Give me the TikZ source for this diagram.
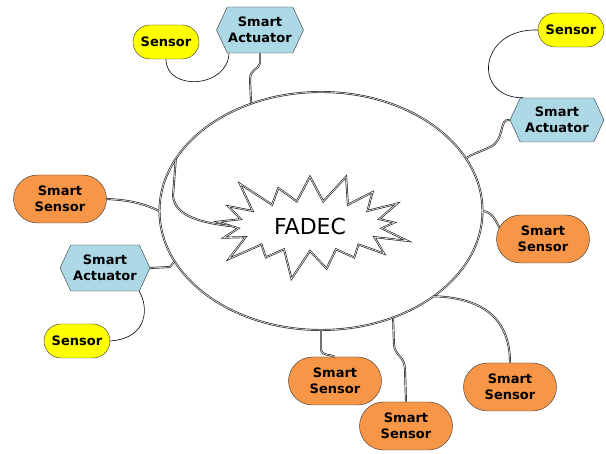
\documentclass[tikz,border=0pt]{standalone}
\usepackage{fontspec}
\setsansfont{DejaVu Sans}
\usepackage{xcolor}
\usetikzlibrary{shapes.geometric,shapes.misc,shapes.symbols}

\definecolor{capteur}{RGB}{255,255,0}
\definecolor{orangesm}{RGB}{247,150,70}
\definecolor{bleuact}{RGB}{173,216,230}

\tikzset{
	boite/.style={draw=black!80,thin,align=center,font=\sffamily\bfseries\fontsize{13}{15.5}\selectfont},
	sensor/.style={boite,rounded rectangle,fill=capteur,minimum width=68pt,minimum height=34pt,inner sep=1pt},
	smartsensor/.style={boite,rounded rectangle,fill=orangesm,minimum width=95pt,minimum height=48pt,inner sep=1pt},
	actuator/.style={boite,signal,signal to=east and west,signal pointer angle=130,fill=bleuact,minimum height=46pt,inner sep=1pt},
	liaison/.style={draw=black!85,line width=0.7pt,double=white,double distance=0.55pt},
	fil/.style={draw=black,line width=0.6pt}
}

\begin{document}
\begin{tikzpicture}[x=1pt,y=-1pt]
	\useasboundingbox (0,0) rectangle (606,454);
	% le calculateur
	\node[ellipse,liaison,minimum width=323pt,minimum height=238pt,inner sep=0pt] (fadecE) at (321,211) {};
	\node[starburst,starburst points=17,starburst point height=34pt,liaison,minimum width=212pt,minimum height=118pt,inner sep=0pt,font=\sffamily\fontsize{22}{26}\selectfont] (fadec) at (310,226) {FADEC};

	% les capteurs et actionneurs
	\node[sensor] (sensTL) at (166,42) {Sensor};
	\node[actuator,minimum width=86pt] (actTL) at (260,30) {Smart\\Actuator};
	\node[sensor] (sensTR) at (571,30) {Sensor};
	\node[actuator,minimum width=94pt,minimum height=44pt] (actTR) at (557,120) {Smart\\Actuator};
	\node[smartsensor] (ssL) at (60,199) {Smart\\Sensor};
	\node[actuator,minimum width=90pt] (actL) at (105,268) {Smart\\Actuator};
	\node[sensor] (sensBL) at (77,341) {Sensor};
	\node[smartsensor] (ssR) at (543,239) {Smart\\Sensor};
	\node[smartsensor] (ssB1) at (335,381) {Smart\\Sensor};
	\node[smartsensor] (ssB2) at (406,426) {Smart\\Sensor};
	\node[smartsensor] (ssB3) at (510,387) {Smart\\Sensor};

	% fils simples capteur -> actionneur
	\draw[fil] (sensTL.south) .. controls (166,92) and (228,88) .. ([xshift=-31pt]actTL.south);
	\draw[fil] (sensTR.west) .. controls (478,28) and (472,98) .. ([xshift=-34pt]actTR.north);
	\draw[fil] ([xshift=34pt]actL.south) .. controls (148,305) and (150,338) .. (sensBL.east);

	% liaisons vers le FADEC
	\draw[liaison] (actTL.south) -- ++(0,10) .. controls (259,70) and (250,68) .. (250,80) -- (fadecE.123);
	\draw[liaison] (actTR.west) .. controls (498,118) and (506,140) .. (490,147) .. controls (480,152) and (472,154) .. (fadecE.20);
	\draw[liaison] (ssL.east) .. controls (130,200) and (145,204) .. (fadecE.180);
	\draw[liaison] (actL.east) -- (170,267) -- (fadecE.199);
	\draw[liaison] (fadecE.160) -- (173,196) .. controls (175,214) and (195,222) .. (fadec.west);
	\draw[liaison] (fadecE.0) .. controls (493,212) and (496,222) .. (ssR.165);
	\draw[liaison] (fadecE.270) -- (321,350) .. controls (322,356) and (330,354) .. (ssB1.north);
	\draw[liaison] (fadecE.-56) -- (394,345) .. controls (395,356) and (405,356) .. (405,370) -- (ssB2.north);
	\draw[liaison] (fadecE.-37) .. controls (490,298) and (510,325) .. (ssB3.north);
\end{tikzpicture}
\end{document}
